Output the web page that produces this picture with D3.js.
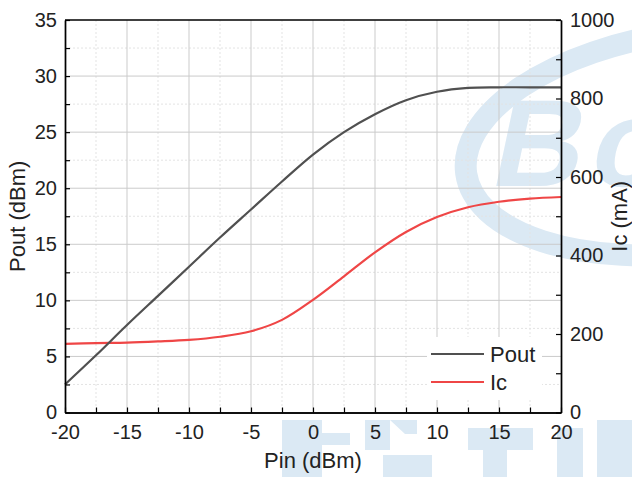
<!DOCTYPE html>
<html>
<head>
<meta charset="utf-8">
<script src="https://cdn.jsdelivr.net/npm/d3@7"></script>
<style>
  html, body { margin: 0; padding: 0; background: #fff; }
  svg { display: block; font-family: "Liberation Sans", Arial, sans-serif; }
</style>
</head>
<body>
<svg id="chart" width="632" height="477"></svg>
<script>
// Input power sweep (dBm)
const pinValues = [-20, -17.5, -15, -12.5, -10, -7.5, -5, -2.5, 0, 2.5, 5, 7.5, 10, 12.5, 15, 17.5, 20];
// Output power (dBm)
const poutValues = [2.5, 5.1, 7.8, 10.4, 13.0, 15.6, 18.1, 20.6, 23.0, 25.0, 26.6, 27.85, 28.6, 28.95, 29.0, 29.0, 29.0];
// Collector current (mA)
const icValues = [175, 177, 178, 181, 185, 193, 207, 236, 287, 347, 408, 460, 498, 523, 537, 545, 549];

const xTicks = [-20, -15, -10, -5, 0, 5, 10, 15, 20];
const yLeftTicks = [0, 5, 10, 15, 20, 25, 30, 35];
const yRightTicks = [0, 200, 400, 600, 800, 1000];
const seriesNames = ["Pout", "Ic"];

const L = 65, R = 561, T = 20, B = 412.5;

const svg = d3.select("#chart");

const x = d3.scaleLinear().domain([-20, 20]).range([L, R]);
const yL = d3.scaleLinear().domain([0, 35]).range([B, T]);
const yR = d3.scaleLinear().domain([0, 1000]).range([B, T]);

// plain hyphen-minus labels
const fmt = d => String(d);

// faint logo watermark behind the plot
const wmColor = "#dbe9f4";
const wm = svg.append("g").attr("class", "watermark");
wm.append("ellipse")
  .attr("cx", 690).attr("cy", 142).attr("rx", 226).attr("ry", 110)
  .attr("transform", "rotate(-8 690 142)")
  .attr("fill", "none").attr("stroke", wmColor).attr("stroke-width", 22);
wm.append("text")
  .attr("transform", "translate(488,186) skewX(-12)")
  .attr("font-size", 124).attr("font-weight", "bold")
  .attr("fill", wmColor).text("B");
wm.append("text")
  .attr("transform", "translate(586,186) skewX(-12)")
  .attr("font-size", 124).attr("font-weight", "bold")
  .attr("fill", wmColor).text("o");
const wmBlocks = [
  [282, 420, 40, 57], [322, 433, 28, 12], [365, 420, 25, 30],
  [383, 455, 49, 22], [468, 428, 65, 22], [483, 450, 24, 27],
  [557, 428, 26, 49], [597, 420, 35, 57]
];
wm.selectAll("rect").data(wmBlocks).join("rect")
  .attr("x", d => d[0]).attr("y", d => d[1])
  .attr("width", d => d[2]).attr("height", d => d[3])
  .attr("fill", wmColor);
wm.append("path").attr("d", "M390,420 L417,420 L417,434 L405,434 Z").attr("fill", wmColor);

// grid
const grid = svg.append("g").attr("class", "grid");
const minorX = d3.range(-17.5, 20, 5);
const majorX = xTicks.filter(v => v > -20 && v < 20);
const minorY = d3.range(2.5, 35, 5);
const majorY = yLeftTicks.filter(v => v > 0 && v < 35);

grid.selectAll(".mx").data(minorX).join("line")
  .attr("x1", d => x(d)).attr("x2", d => x(d)).attr("y1", T).attr("y2", B)
  .attr("stroke", "#e3e3e3").attr("stroke-dasharray", "2,2");
grid.selectAll(".my").data(minorY).join("line")
  .attr("y1", d => yL(d)).attr("y2", d => yL(d)).attr("x1", L).attr("x2", R)
  .attr("stroke", "#e3e3e3").attr("stroke-dasharray", "2,2");
grid.selectAll(".gx").data(majorX).join("line")
  .attr("x1", d => x(d)).attr("x2", d => x(d)).attr("y1", T).attr("y2", B)
  .attr("stroke", "#cbcbcb").attr("stroke-width", 1);
grid.selectAll(".gy").data(majorY).join("line")
  .attr("y1", d => yL(d)).attr("y2", d => yL(d)).attr("x1", L).attr("x2", R)
  .attr("stroke", "#cbcbcb").attr("stroke-width", 1);

// curves
const data = pinValues.map((p, i) => ({ p, pout: poutValues[i], ic: icValues[i] }));
const smooth = d3.curveCatmullRom.alpha(0.5);
const linePout = d3.line().x(d => x(d.p)).y(d => yL(d.pout)).curve(smooth);
const lineIc = d3.line().x(d => x(d.p)).y(d => yR(d.ic)).curve(smooth);
const colors = { Pout: "#505050", Ic: "#ef4646" };

svg.append("path").datum(data).attr("d", lineIc)
  .attr("fill", "none").attr("stroke", colors.Ic).attr("stroke-width", 2.2);
svg.append("path").datum(data).attr("d", linePout)
  .attr("fill", "none").attr("stroke", colors.Pout).attr("stroke-width", 2.2);

// axes
function styleAxis(g) {
  g.select(".domain").attr("stroke", "#000").attr("stroke-width", 1.4);
  g.selectAll(".tick line").attr("stroke", "#000").attr("stroke-width", 1.2);
  g.selectAll(".tick text").attr("font-size", 20).attr("fill", "#222");
}

const xAxis = svg.append("g").attr("transform", `translate(0,${B})`)
  .call(d3.axisBottom(x).tickValues(xTicks).tickSizeInner(-5).tickSizeOuter(0).tickPadding(12).tickFormat(fmt));
styleAxis(xAxis);
const xMinor = svg.append("g").attr("transform", `translate(0,${B})`)
  .call(d3.axisBottom(x).tickValues(minorX).tickSizeInner(-5).tickSizeOuter(0).tickFormat(""));
styleAxis(xMinor);

const yAxisL = svg.append("g").attr("transform", `translate(${L},0)`)
  .call(d3.axisLeft(yL).tickValues(yLeftTicks).tickSizeInner(-5).tickSizeOuter(0).tickPadding(8).tickFormat(fmt));
styleAxis(yAxisL);
const yMinorL = svg.append("g").attr("transform", `translate(${L},0)`)
  .call(d3.axisLeft(yL).tickValues(minorY).tickSizeInner(-5).tickSizeOuter(0).tickFormat(""));
styleAxis(yMinorL);

const yAxisR = svg.append("g").attr("transform", `translate(${R},0)`)
  .call(d3.axisRight(yR).tickValues(yRightTicks).tickSizeInner(-5).tickSizeOuter(0).tickPadding(9).tickFormat(fmt));
styleAxis(yAxisR);
const yMinorR = svg.append("g").attr("transform", `translate(${R},0)`)
  .call(d3.axisRight(yR).tickValues(d3.range(100, 1000, 200)).tickSizeInner(-5).tickSizeOuter(0).tickFormat(""));
styleAxis(yMinorR);

// top frame
svg.append("line").attr("x1", L).attr("x2", R).attr("y1", T).attr("y2", T)
  .attr("stroke", "#000").attr("stroke-width", 1.4);

// axis titles
svg.append("text").attr("x", (L + R) / 2).attr("y", 468)
  .attr("text-anchor", "middle").attr("font-size", 22).attr("fill", "#222").text("Pin (dBm)");
svg.append("text").attr("transform", `translate(25,${(T + B) / 2}) rotate(-90)`)
  .attr("text-anchor", "middle").attr("font-size", 22).attr("fill", "#222").text("Pout (dBm)");
svg.append("text").attr("transform", `translate(627,${(T + B) / 2}) rotate(-90)`)
  .attr("text-anchor", "middle").attr("font-size", 22).attr("fill", "#222").text("Ic (mA)");

// legend
const legend = svg.append("g");
legend.append("rect").attr("x", 427).attr("y", 337).attr("width", 115).attr("height", 63).attr("fill", "#fff");
const items = legend.selectAll("g.item").data(seriesNames).join("g")
  .attr("transform", (d, i) => `translate(0,${354 + i * 28})`);
items.append("line").attr("x1", 431).attr("x2", 484).attr("y1", 0).attr("y2", 0)
  .attr("stroke", d => colors[d]).attr("stroke-width", 2.2);
items.append("text").attr("x", 490).attr("y", 8).attr("font-size", 22).attr("fill", "#222").text(d => d);
</script>
</body>
</html>
